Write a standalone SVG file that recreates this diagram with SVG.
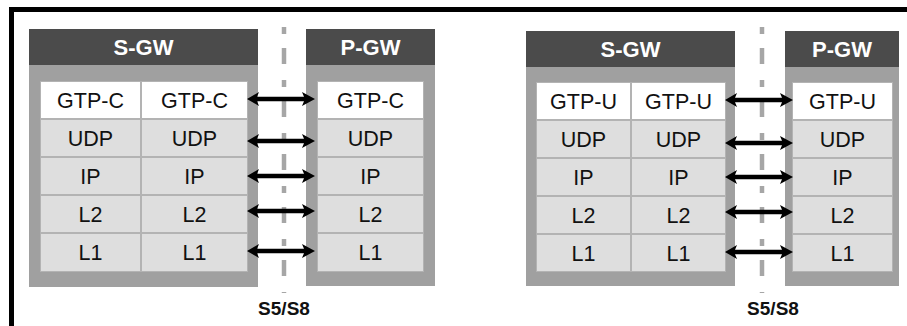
<svg xmlns="http://www.w3.org/2000/svg" width="907" height="326" viewBox="0 0 907 326">
<style>
.box{fill:#a0a0a0}
.hdr{fill:#4b4b4b}
.grid{fill:#b3b3b3}
.c{fill:#dedede}
.w{fill:#ffffff}
.t{font-family:"Liberation Sans",Arial,sans-serif;font-size:21.5px;fill:#111;text-anchor:middle}
.h{font-family:"Liberation Sans",Arial,sans-serif;font-size:22px;font-weight:bold;fill:#fff;text-anchor:middle}
.lbl{font-family:"Liberation Sans",Arial,sans-serif;font-size:19px;font-weight:bold;fill:#111;text-anchor:middle}
.dash{stroke:#a6a6a6;stroke-width:4.5;stroke-dasharray:7 14 16 16;fill:none}
.arr{fill:#000}
</style>
<defs>
<path id="dbl" class="arr" d="M0,0 L12,-7 L10,-2.2 L57,-2.2 L55,-7 L68,0 L55,7 L57,2.2 L10,2.2 L12,7 Z"/>
</defs>
<rect width="907" height="326" fill="#fff"/>
<path d="M11.5,326 L11.5,9.5 L907,9.5" fill="none" stroke="#000" stroke-width="5"/>

<!-- Left S-GW -->
<g id="sgw1">
<rect class="box" x="29" y="29" width="229" height="258"/>
<rect class="hdr" x="29" y="29" width="229" height="36"/>
<text class="h" x="143.5" y="55">S-GW</text>
<rect class="grid" x="40" y="81" width="208" height="191"/>
<rect class="w" x="41" y="82" width="99" height="36"/>
<rect class="w" x="142" y="82" width="105" height="36"/>
<rect class="c" x="41" y="120" width="99" height="36"/>
<rect class="c" x="142" y="120" width="105" height="36"/>
<rect class="c" x="41" y="158" width="99" height="36"/>
<rect class="c" x="142" y="158" width="105" height="36"/>
<rect class="c" x="41" y="196" width="99" height="36"/>
<rect class="c" x="142" y="196" width="105" height="36"/>
<rect class="c" x="41" y="234" width="99" height="37"/>
<rect class="c" x="142" y="234" width="105" height="37"/>
<text class="t" x="90.5" y="108">GTP-C</text>
<text class="t" x="194.5" y="108">GTP-C</text>
<text class="t" x="90.5" y="146">UDP</text>
<text class="t" x="194.5" y="146">UDP</text>
<text class="t" x="90.5" y="184">IP</text>
<text class="t" x="194.5" y="184">IP</text>
<text class="t" x="90.5" y="222">L2</text>
<text class="t" x="194.5" y="222">L2</text>
<text class="t" x="90.5" y="260">L1</text>
<text class="t" x="194.5" y="260">L1</text>
</g>

<!-- Left P-GW -->
<g id="pgw1">
<rect class="box" x="306" y="29" width="129" height="257"/>
<rect class="hdr" x="306" y="29" width="129" height="36"/>
<text class="h" x="370.5" y="55">P-GW</text>
<rect class="grid" x="317" y="81" width="107" height="191"/>
<rect class="w" x="318" y="82" width="105" height="36"/>
<rect class="c" x="318" y="120" width="105" height="36"/>
<rect class="c" x="318" y="158" width="105" height="36"/>
<rect class="c" x="318" y="196" width="105" height="36"/>
<rect class="c" x="318" y="234" width="105" height="37"/>
<text class="t" x="370.5" y="108">GTP-C</text>
<text class="t" x="370.5" y="146">UDP</text>
<text class="t" x="370.5" y="184">IP</text>
<text class="t" x="370.5" y="222">L2</text>
<text class="t" x="370.5" y="260">L1</text>
</g>

<!-- Right S-GW -->
<g id="sgw2">
<rect class="box" x="526" y="31" width="209" height="255"/>
<rect class="hdr" x="526" y="31" width="209" height="36"/>
<text class="h" x="630.5" y="57">S-GW</text>
<rect class="grid" x="536" y="82" width="190" height="190"/>
<rect class="w" x="537" y="83" width="93" height="36"/>
<rect class="w" x="632" y="83" width="93" height="36"/>
<rect class="c" x="537" y="121" width="93" height="36"/>
<rect class="c" x="632" y="121" width="93" height="36"/>
<rect class="c" x="537" y="159" width="93" height="36"/>
<rect class="c" x="632" y="159" width="93" height="36"/>
<rect class="c" x="537" y="197" width="93" height="36"/>
<rect class="c" x="632" y="197" width="93" height="36"/>
<rect class="c" x="537" y="235" width="93" height="36"/>
<rect class="c" x="632" y="235" width="93" height="36"/>
<text class="t" x="583.5" y="109">GTP-U</text>
<text class="t" x="678.5" y="109">GTP-U</text>
<text class="t" x="583.5" y="147">UDP</text>
<text class="t" x="678.5" y="147">UDP</text>
<text class="t" x="583.5" y="185">IP</text>
<text class="t" x="678.5" y="185">IP</text>
<text class="t" x="583.5" y="223">L2</text>
<text class="t" x="678.5" y="223">L2</text>
<text class="t" x="583.5" y="261">L1</text>
<text class="t" x="678.5" y="261">L1</text>
</g>

<!-- Right P-GW -->
<g id="pgw2">
<rect class="box" x="785" y="31" width="114" height="255"/>
<rect class="hdr" x="785" y="31" width="114" height="36"/>
<text class="h" x="842" y="57">P-GW</text>
<rect class="grid" x="792" y="82" width="101" height="190"/>
<rect class="w" x="793" y="83" width="99" height="36"/>
<rect class="c" x="793" y="121" width="99" height="36"/>
<rect class="c" x="793" y="159" width="99" height="36"/>
<rect class="c" x="793" y="197" width="99" height="36"/>
<rect class="c" x="793" y="235" width="99" height="36"/>
<text class="t" x="842.5" y="109">GTP-U</text>
<text class="t" x="842.5" y="147">UDP</text>
<text class="t" x="842.5" y="185">IP</text>
<text class="t" x="842.5" y="223">L2</text>
<text class="t" x="842.5" y="261">L1</text>
</g>

<!-- Interface lines -->
<g id="s5s8-1">
<line class="dash" x1="284" y1="27" x2="284" y2="293"/>
<text class="lbl" x="284" y="315">S5/S8</text>
</g>
<g id="s5s8-2">
<line class="dash" x1="762" y1="27" x2="762" y2="293"/>
<text class="lbl" x="773" y="315">S5/S8</text>
</g>

<!-- Connectors -->
<g id="connectors">
<use href="#dbl" x="247" y="99"/>
<use href="#dbl" x="247" y="141"/>
<use href="#dbl" x="247" y="176"/>
<use href="#dbl" x="247" y="211"/>
<use href="#dbl" x="247" y="251"/>
<use href="#dbl" x="725" y="100"/>
<use href="#dbl" x="725" y="143"/>
<use href="#dbl" x="725" y="177"/>
<use href="#dbl" x="725" y="212"/>
<use href="#dbl" x="725" y="252"/>
</g>
</svg>
